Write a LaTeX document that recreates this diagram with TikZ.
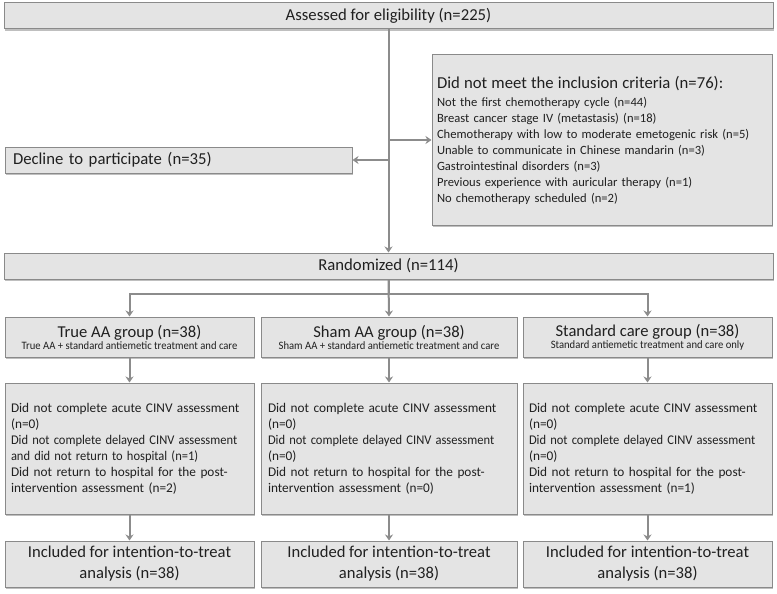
\documentclass[tikz,border=0pt]{standalone}
\usepackage{graphicx}
\usepackage{fontspec}
\setmainfont{Carlito}
\usetikzlibrary{arrows.meta,shadows}
\definecolor{boxfill}{HTML}{E4E4E4}
\definecolor{boxline}{HTML}{8A8A8A}
\definecolor{flowline}{HTML}{8C8C8C}
\definecolor{ink}{HTML}{202020}
\newcommand{\squeeze}[1]{\scalebox{0.94}[1]{#1}}
\begin{document}
\begin{tikzpicture}[x=1pt,y=-1pt,
    box/.style={draw=boxline,line width=1pt,fill=boxfill,text=ink,inner sep=0pt,
      drop shadow={shadow xshift=1.2pt,shadow yshift=-1.8pt,fill=black!50}},
    flow/.style={draw=flowline,line width=2pt,-{Stealth[length=6pt,width=8pt,inset=2pt]}}]
  \useasboundingbox (0,0) rectangle (777,594);

  \node[box,minimum width=769pt,minimum height=26pt,font=\fontsize{16.7}{18}\selectfont] (assess) at (388.5,16) {Assessed for eligibility (n=225)};

  \node[box,minimum width=340pt,minimum height=170pt,text width=330pt,align=left,font=\fontsize{12.6}{16}\selectfont] (incl) at (602,140)
    {{\fontsize{16.7}{18}\selectfont Did not meet the inclusion criteria (n=76):}\\[2pt]
     Not the first chemotherapy cycle (n=44)\\
     Breast cancer stage IV (metastasis) (n=18)\\
     Chemotherapy with low to moderate emetogenic risk (n=5)\\
     Unable to communicate in Chinese mandarin (n=3)\\
     Gastrointestinal disorders (n=3)\\
     Previous experience with auricular therapy (n=1)\\
     No chemotherapy scheduled (n=2)};

  \node[box,minimum width=347pt,minimum height=26pt,text width=331pt,align=left,font=\fontsize{16.7}{18}\selectfont] (decl) at (178.5,160) {Decline to participate (n=35)};

  \node[box,minimum width=769pt,minimum height=26pt,font=\fontsize{16.7}{18}\selectfont] (rand) at (388.5,266) {Randomized (n=114)};

  \node[box,minimum width=249pt,minimum height=40pt,align=center] (g1) at (129.5,337)
    {{\fontsize{16.6}{17}\selectfont True AA group (n=38)}\\{\fontsize{11.3}{12}\selectfont\squeeze{True AA + standard antiemetic treatment and care}}};
  \node[box,minimum width=256pt,minimum height=40pt,align=center] (g2) at (389,337)
    {{\fontsize{16.6}{17}\selectfont Sham AA group (n=38)}\\{\fontsize{11.3}{12}\selectfont\squeeze{Sham AA + standard antiemetic treatment and care}}};
  \node[box,minimum width=249pt,minimum height=40pt,align=center] (g3) at (647.5,337)
    {{\fontsize{16.6}{17}\selectfont Standard care group (n=38)}\\{\fontsize{11.3}{12}\selectfont\squeeze{Standard antiemetic treatment and care only}}};

  \node[box,minimum width=249pt,minimum height=131pt,text width=237pt,align=left,font=\fontsize{13.3}{16}\selectfont] (d1) at (129.5,448.5)
    {Did not complete acute CINV assessment\\(n=0)\\\squeeze{Did not complete delayed CINV assessment}\\\squeeze{and did not return to hospital (n=1)}\\Did not return to hospital for the post-\\intervention assessment (n=2)};
  \node[box,minimum width=256pt,minimum height=131pt,text width=242pt,align=left,font=\fontsize{13.3}{16}\selectfont] (d2) at (389,448.5)
    {Did not complete acute CINV assessment\\(n=0)\\\squeeze{Did not complete delayed CINV assessment}\\(n=0)\\Did not return to hospital for the post-\\intervention assessment (n=0)};
  \node[box,minimum width=249pt,minimum height=131pt,text width=237pt,align=left,font=\fontsize{13.3}{16}\selectfont] (d3) at (647.5,448.5)
    {Did not complete acute CINV assessment\\(n=0)\\\squeeze{Did not complete delayed CINV assessment}\\(n=0)\\Did not return to hospital for the post-\\intervention assessment (n=1)};

  \node[box,minimum width=249pt,minimum height=46pt,align=center,font=\fontsize{16.6}{21}\selectfont] (f1) at (129.5,564) {Included for intention-to-treat\\analysis (n=38)};
  \node[box,minimum width=256pt,minimum height=46pt,align=center,font=\fontsize{16.6}{21}\selectfont] (f2) at (389,564) {Included for intention-to-treat\\analysis (n=38)};
  \node[box,minimum width=249pt,minimum height=46pt,align=center,font=\fontsize{16.6}{21}\selectfont] (f3) at (647.5,564) {Included for intention-to-treat\\analysis (n=38)};

  \draw[flow] (assess) -- (rand);
  \draw[flow] (assess.south |- incl.west) -- (incl.west);
  \draw[flow] (assess.south |- decl.east) -- (decl.east);
  \draw[flow] (rand.south) -- ++(0,14) coordinate (split) -| (g1.north);
  \draw[flow] (split) -| (g3.north);
  \draw[flow] (rand.south) -- (g2.north);
  \foreach \i in {1,2,3} {
    \draw[flow] (g\i) -- (d\i);
    \draw[flow] (d\i) -- (f\i);
  }
\end{tikzpicture}
\end{document}
